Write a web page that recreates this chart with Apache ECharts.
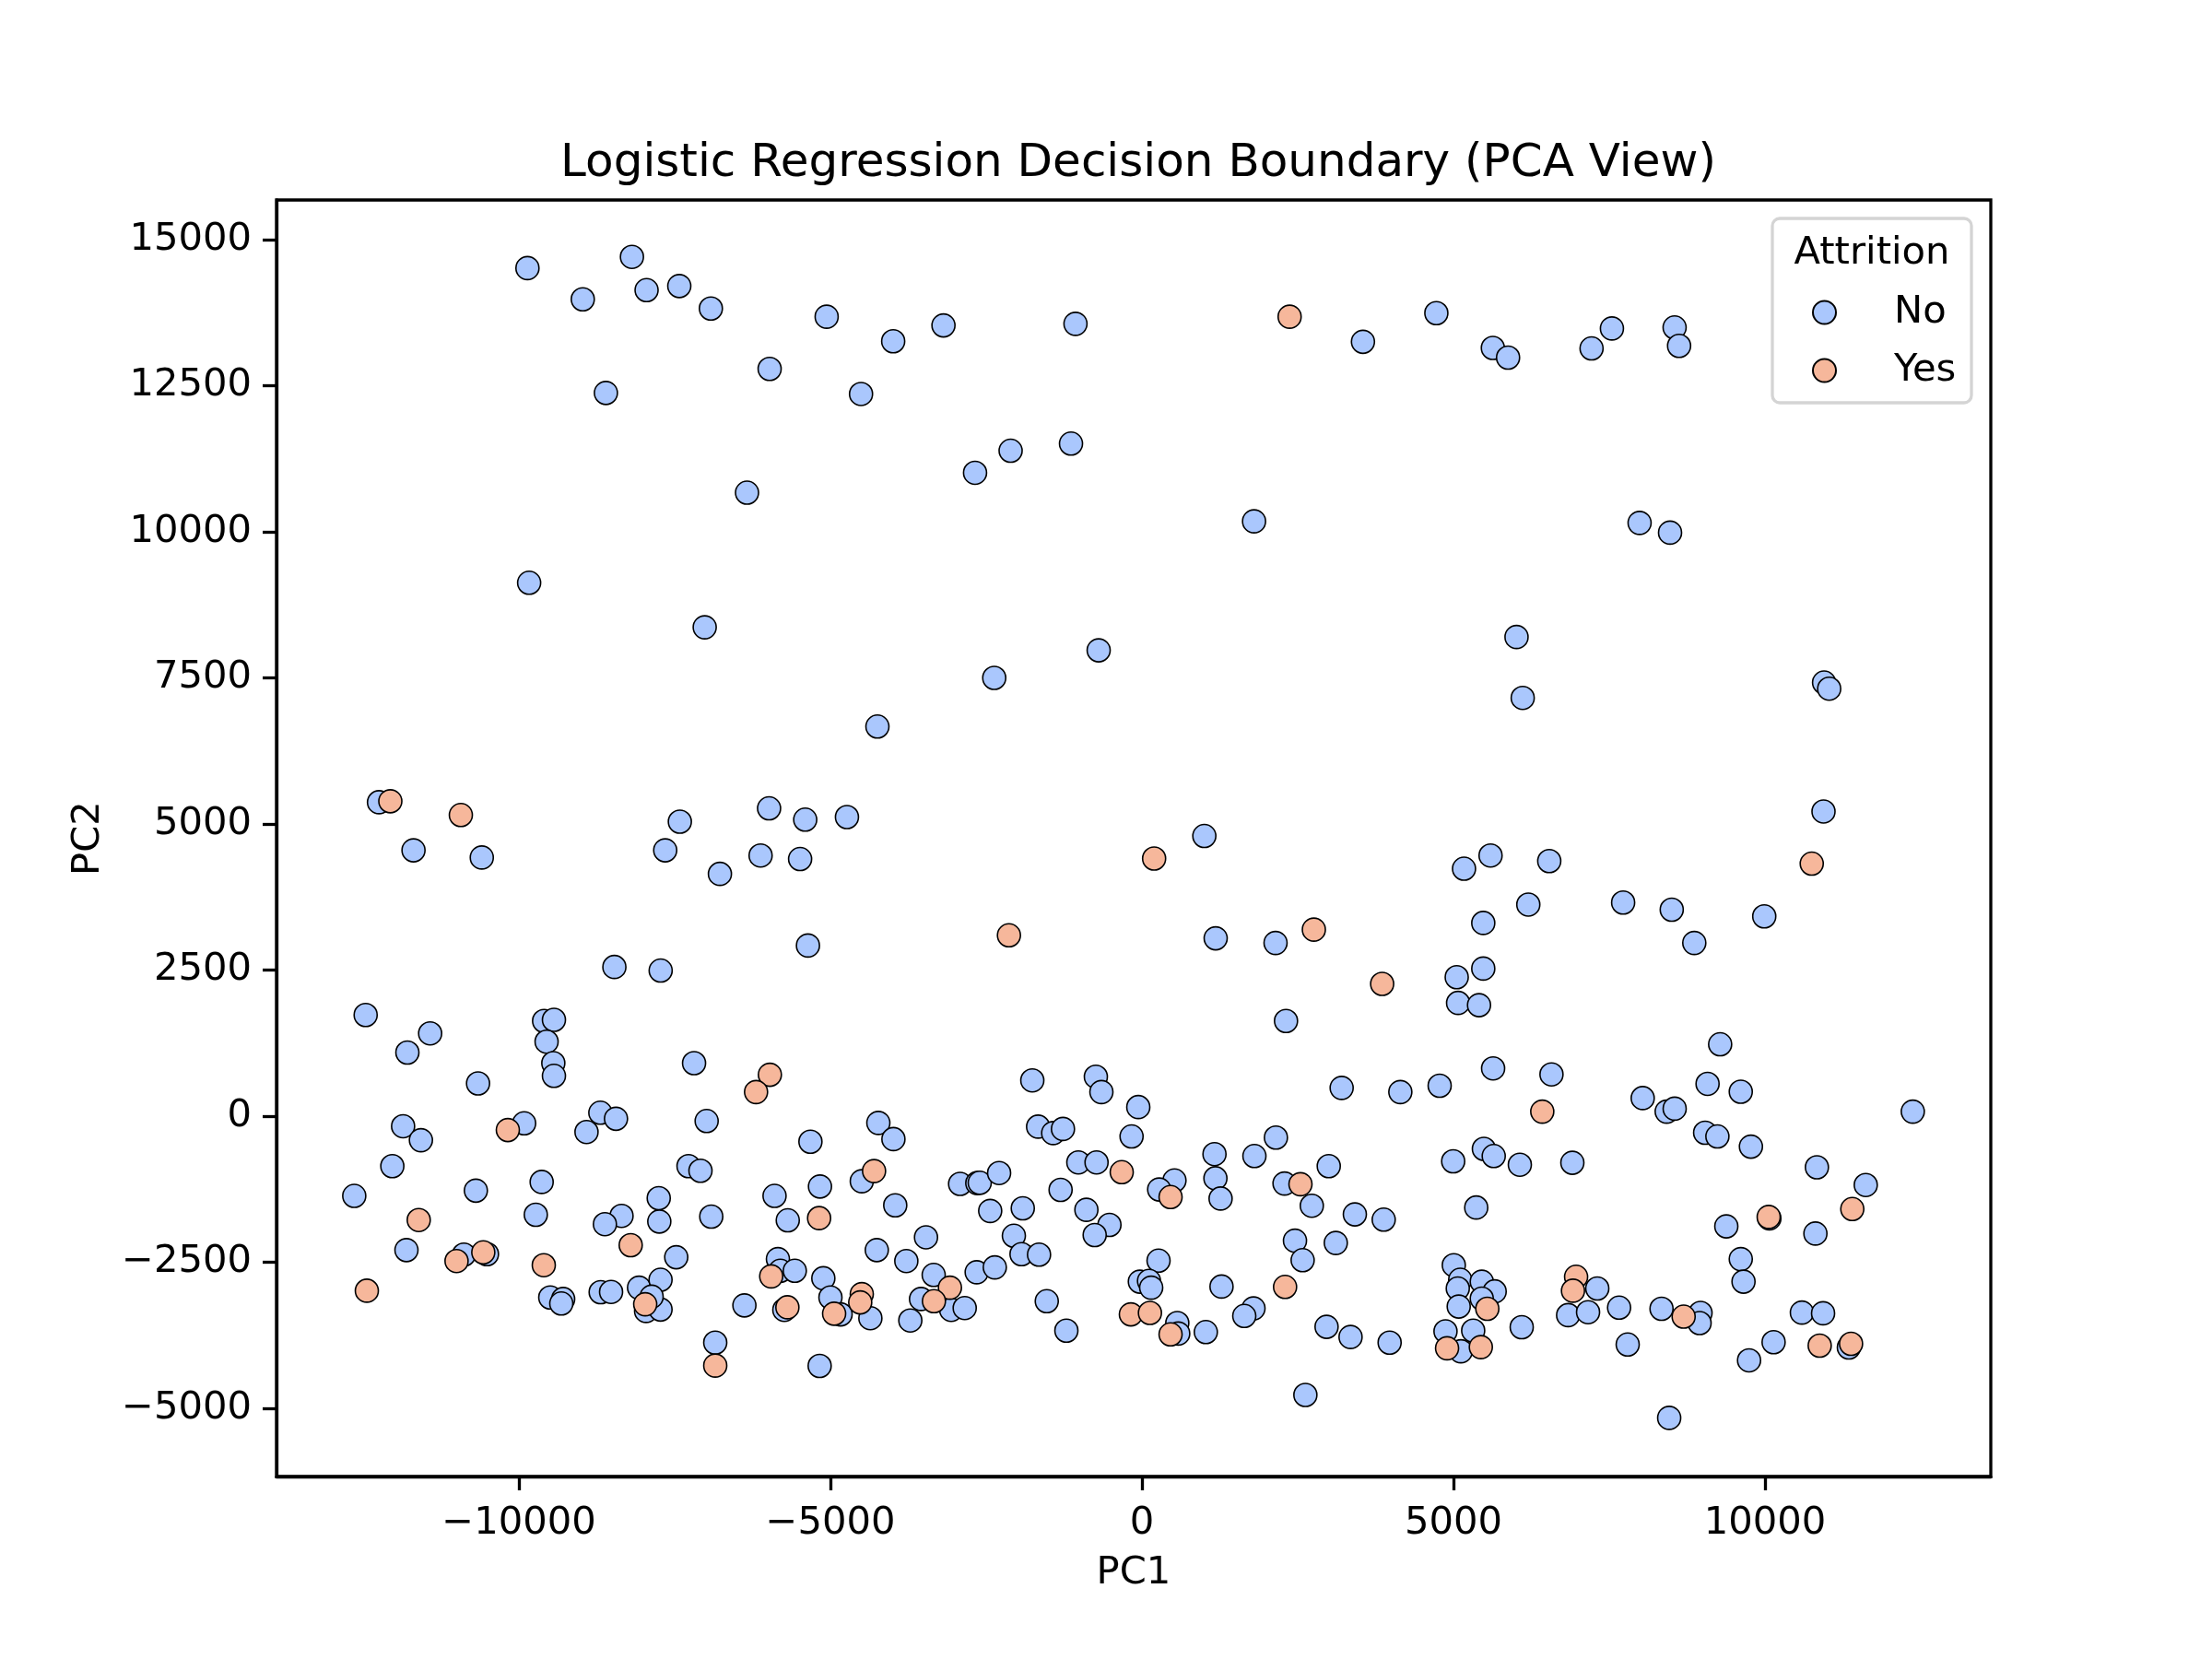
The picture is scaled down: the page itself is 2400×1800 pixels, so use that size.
<!DOCTYPE html>
<html>
<head>
<meta charset="utf-8">
<title>Logistic Regression Decision Boundary (PCA View)</title>
<script src="https://cdn.jsdelivr.net/npm/echarts@6/dist/echarts.min.js"></script>
<style>
  html, body { margin: 0; padding: 0; background: #fff; }
  #chart { width: 2400px; height: 1800px; }
</style>
</head>
<body>
<div id="chart"></div>
<script>
// PC1 / PC2 of employees with Attrition = No
var noPoints = [
  [-9863,14510],[-8186,14702],[-8975,13976],[-7951,14133],[-7426,14203],[-6919,13818],[-8604,12374],
  [-5061,13678],[-5976,12785],[-3993,13258],[-3186,13529],[-1067,13556],[-4509,12356],[-2679,11008],
  [-2108,11385],[-1139,11507],[-6339,10667],[-9836,9126],[-7018,8364],[-695,7970],[-2371,7498],
  [-4246,6666],[-12246,5371],[-11692,4548],[-10596,4425],[-7417,5038],[-7652,4548],[-6774,4145],
  [-5985,5266],[-6121,4460],[-5405,5073],[-5487,4399],[-4735,5117],[-5361,2919],[-8468,2552],[-7725,2491],
  [3547,13249],[4725,13739],[5632,13144],[5876,12978],[7216,13135],[7543,13477],[8549,13494],[8621,13179],
  [1799,10177],[7987,10150],[8476,9984],[6012,8198],[6111,7156],[10948,7419],[11030,7314],[10939,5213],
  [1001,4793],[5169,4233],[5595,4460],[6537,4364],[6201,3620],[7723,3655],[8503,3532],[9988,3418],
  [5478,3305],[8865,2963],[1183,3042],[2144,2963],[5052,2377],[5478,2525],
  [-12460,1731],[-11425,1416],[-11790,1088],[-10656,560],[-9596,1628],[-9438,1648],[-9556,1274],
  [-9448,907],[-9438,689],[-7189,907],[-6987,-84],[-11859,-173],[-11573,-412],[-9916,-123],[-8915,-271],
  [-8693,58],[-8442,-45],[-12032,-856],[-12643,-1365],[-10691,-1275],[-9635,-1126],[-7278,-856],
  [-7086,-934],[-9729,-1687],[-8353,-1706],[-8620,-1848],[-7756,-1404],[-7747,-1803],[-6913,-1719],
  [-11805,-2292],[-10883,-2369],[-10513,-2362],[-7475,-2414],[-9497,-3103],[-9290,-3129],[-9320,-3206],
  [-8688,-3012],[-8521,-3007],[-8072,-2935],[-7727,-2800],[-7959,-3334],[-7727,-3309],[-7870,-3089],
  [-5321,-438],[-4231,-116],[-3989,-393],[-4497,-1114],[-5168,-1204],[-5897,-1365],[-5685,-1783],
  [-3960,-1526],[-5843,-2446],[-5804,-2646],[-5572,-2646],[-6381,-3238],[-5740,-3315],[-5114,-2774],
  [-5000,-3103],[-4837,-3392],[-4359,-3457],[-5173,-4274],[-6849,-3875],[-4256,-2292],[-3782,-2479],
  [-3466,-2073],[-3343,-2717],[-3546,-3129],[-3062,-3315],[-2845,-3283],[-3718,-3496],[-2919,-1159],
  [-2643,-1146],[-2604,-1140],[-2293,-973],[-2436,-1622],[-2653,-2671],[-2362,-2588],[-1913,-1577],
  [-2056,-2047],[-1933,-2362],[-1652,-2369],[-1528,-3167],[-1213,-3670],[-1760,612],[-1667,-180],
  [-1425,-290],[-1268,-219],[-740,675],[-651,412],[-59,155],[-167,-348],[-1021,-792],[-729,-792],
  [-1306,-1262],[-892,-1603],[-522,-1861],[-759,-2034],[-34,-2832],
  [5074,1937],[5410,1899],[2312,1628],[5636,817],[6573,714],[3205,483],[4147,412],[4778,520],
  [2150,-367],[1164,-650],[1805,-683],[1179,-1063],[1262,-1410],[522,-1101],[276,-1255],[2998,-856],
  [2288,-1153],[2726,-1533],[3417,-1681],[3880,-1771],[2456,-2131],[2579,-2465],[3111,-2170],
  [266,-2473],[113,-2820],[148,-2935],[1277,-2916],[1790,-3290],[1642,-3419],[567,-3540],[582,-3720],
  [1025,-3695],[2963,-3605],[3348,-3779],[3975,-3875],[2623,-4770],[4995,-773],[5488,-560],[5646,-683],
  [6065,-831],[6908,-798],[5365,-1564],[5005,-2550],[5108,-2800],[5069,-2949],[5084,-3258],[5454,-2832],
  [5661,-2999],[5454,-3122],[4872,-3682],[5316,-3670],[5118,-4023],[6095,-3611],[6840,-3405],
  [9280,1229],[9078,553],[9611,418],[8037,309],[8422,77],[8550,128],[9039,-284],[9236,-348],[9774,-522],
  [12372,77],[10833,-875],[11617,-1178],[10070,-1750],[9379,-1886],[10809,-2009],[9611,-2446],
  [9655,-2832],[7308,-2949],[7160,-3354],[7658,-3277],[7796,-3908],[8339,-3296],[8965,-3367],
  [8950,-3540],[8462,-5163],[9744,-4178],[10138,-3868],[10592,-3361],[10932,-3373],[11346,-3958]
];

// PC1 / PC2 of employees with Attrition = Yes
var yesPoints = [
  [-12064,5388],[-10932,5152],[-2135,3094],
  [2370,13678],[10750,4320],[195,4408],[2759,3191],[3855,2263],
  [-10178,-238],[-11608,-1777],[-8206,-2208],[-11001,-2479],[-10572,-2331],[-9601,-2550],
  [-12441,-2987],[-7973,-3219],
  [-5972,708],[-6194,412],[-4300,-940],[-5182,-1745],[-5951,-2742],[-5691,-3271],[-4941,-3380],
  [-4497,-3045],[-4522,-3187],[-6849,-4268],[-3082,-2935],[-3339,-3167],[-325,-959],[-178,-3392],
  [6425,77],[459,-1385],[2544,-1165],[2297,-2922],[128,-3367],[459,-3734],[5543,-3296],[4897,-3972],
  [5439,-3952],[6968,-2749],[6918,-2987],
  [11401,-1590],[10059,-1725],[8694,-3431],[10878,-3927],[11381,-3895]
];

var xTicks = [-10000, -5000, 0, 5000, 10000];
var yTicks = [-5000, -2500, 0, 2500, 5000, 7500, 10000, 12500, 15000];
var classNames = ['No', 'Yes'];
var classColors = ['#aac7fd', '#f6b79b'];

var font = 'DejaVu Sans';
var fs = 41.7;

function tickText(v) {
    // matplotlib uses a real minus sign
    return v < 0 ? '\u2212' + Math.abs(v) : String(v);
}

var chartDom = document.getElementById('chart');
var myChart = echarts.init(chartDom, null, { renderer: 'canvas' });

var option = {
    animation: false,
    backgroundColor: '#ffffff',
    textStyle: { fontFamily: font },
    title: {
        text: 'Logistic Regression Decision Boundary (PCA View)',
        left: 1230,
        top: 148,
        textAlign: 'center',
        textStyle: { fontFamily: font, fontSize: 50, fontWeight: 'normal', color: '#000' }
    },
    grid: {
        left: 300, right: 240, top: 217, bottom: 198,
        show: true, borderColor: '#000', borderWidth: 3.3,
        containLabel: false
    },
    xAxis: {
        type: 'value',
        min: -13891,
        max: 13624,
        name: 'PC1',
        nameLocation: 'middle',
        nameGap: 84,
        nameTextStyle: { fontFamily: font, fontSize: fs, color: '#000' },
        axisLine: { show: true, onZero: false, lineStyle: { color: '#000', width: 3.3 } },
        axisTick: { show: true, length: 15, customValues: xTicks, lineStyle: { color: '#000', width: 3.3 } },
        axisLabel: { customValues: xTicks, fontFamily: font, fontSize: fs, color: '#000', margin: 30, formatter: tickText },
        splitLine: { show: false }
    },
    yAxis: {
        type: 'value',
        min: -6166,
        max: 15675,
        name: 'PC2',
        nameLocation: 'middle',
        nameGap: 183,
        nameTextStyle: { fontFamily: font, fontSize: fs, color: '#000' },
        axisLine: { show: true, onZero: false, lineStyle: { color: '#000', width: 3.3 } },
        axisTick: { show: true, length: 15, customValues: yTicks, lineStyle: { color: '#000', width: 3.3 } },
        axisLabel: { customValues: yTicks, fontFamily: font, fontSize: fs, color: '#000', margin: 27, formatter: tickText },
        splitLine: { show: false }
    },
    legend: {
        data: classNames,
        orient: 'vertical',
        left: 1961,
        top: 313,
        itemWidth: 25,
        itemHeight: 25,
        itemGap: 21,
        icon: 'circle',
        z: 6,
        textStyle: { fontFamily: font, fontSize: fs, color: '#000', lineHeight: 25, padding: [0, 0, 0, 58] }
    },
    graphic: [
        {
            type: 'rect',
            z: 5,
            shape: { x: 1923, y: 237, width: 216, height: 200, r: 8 },
            style: { fill: 'rgba(255,255,255,0.8)', stroke: '#d4d4d4', lineWidth: 3.3 }
        },
        {
            type: 'text',
            z: 7,
            style: {
                x: 2031, y: 275, text: 'Attrition',
                font: fs + 'px "' + font + '"', fill: '#000',
                textAlign: 'center', textVerticalAlign: 'middle'
            }
        }
    ],
    series: [
        {
            name: classNames[0],
            type: 'scatter',
            data: noPoints,
            symbolSize: 25,
            itemStyle: { color: classColors[0], borderColor: '#000', borderWidth: 1.6, opacity: 1 },
            emphasis: { disabled: true }
        },
        {
            name: classNames[1],
            type: 'scatter',
            data: yesPoints,
            symbolSize: 25,
            itemStyle: { color: classColors[1], borderColor: '#000', borderWidth: 1.6, opacity: 1 },
            emphasis: { disabled: true }
        }
    ]
};

myChart.setOption(option);
</script>
</body>
</html>
